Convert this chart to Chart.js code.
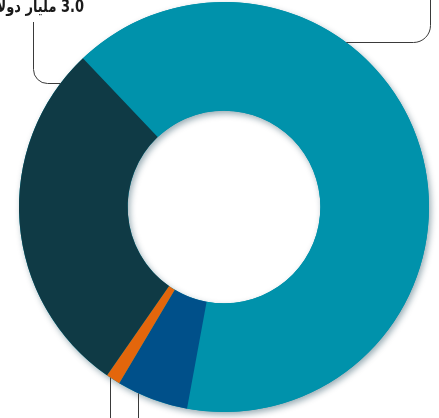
<!DOCTYPE html>
<html>
<head>
<meta charset="utf-8">
<script src="https://cdn.jsdelivr.net/npm/chart.js@4.4.0/dist/chart.umd.min.js"></script>
<style>
  html, body { margin: 0; padding: 0; background: #fff; }
  #wrap { width: 439px; height: 418px; }
</style>
</head>
<body>
<div id="wrap"><canvas id="chart"></canvas></div>
<script>
// values in billion dollars, clockwise from the top-left boundary
const labels = ['القطاع 1', 'القطاع 2', 'القطاع 3', 'القطاع 4'];
const values = [6.9, 0.6, 0.12, 3.0];
const colors = ['#0092ab', '#00508a', '#e3660c', '#0f3a45'];
const calloutText = '3.0 مليار دولار';

const ringShadow = {
    id: 'ringShadow',
    beforeDatasetsDraw(chart) {
        const arc = chart.getDatasetMeta(0).data[0];
        if (!arc) return;
        const ctx = chart.ctx;
        ctx.save();
        ctx.beginPath();
        ctx.arc(arc.x, arc.y, arc.outerRadius, 0, Math.PI * 2);
        ctx.arc(arc.x, arc.y, arc.innerRadius, 0, Math.PI * 2, true);
        ctx.shadowColor = 'rgba(0, 50, 70, 0.4)';
        ctx.shadowBlur = 6;
        ctx.shadowOffsetX = 2;
        ctx.shadowOffsetY = 3;
        ctx.fillStyle = colors[0];
        ctx.fill();
        ctx.restore();
    }
};

const callouts = {
    id: 'callouts',
    afterDraw(chart) {
        const meta = chart.getDatasetMeta(0);
        const a0 = meta.data[0];
        const cx = a0.x, cy = a0.y, r = a0.outerRadius;
        const ctx = chart.ctx;
        ctx.save();
        ctx.strokeStyle = '#3a3a3a';
        ctx.lineWidth = 1;

        // top-left callout to the dark slice
        let y = 83.5;
        let x = cx - Math.sqrt(r * r - (cy - y) * (cy - y));
        ctx.beginPath();
        ctx.moveTo(x, y);
        ctx.lineTo(33.5 + 14, y);
        ctx.arcTo(33.5, y, 33.5, y - 14, 14);
        ctx.lineTo(33.5, 22);
        ctx.stroke();

        // top-right callout from the teal slice
        y = 42.5;
        x = cx + Math.sqrt(r * r - (cy - y) * (cy - y));
        ctx.beginPath();
        ctx.moveTo(x, y);
        ctx.lineTo(430.5 - 17, y);
        ctx.arcTo(430.5, y, 430.5, y - 17, 17);
        ctx.lineTo(430.5, -5);
        ctx.stroke();

        // bottom callouts: orange slice and blue slice
        for (const lx of [110.5, 138.5]) {
            ctx.beginPath();
            ctx.moveTo(lx, cy + Math.sqrt(r * r - (lx - cx) * (lx - cx)));
            ctx.lineTo(lx, 430);
            ctx.stroke();
        }

        // label text (cut at the top-left edge)
        ctx.fillStyle = '#1a1a1a';
        ctx.font = "bold 17px 'DejaVu Sans Condensed', 'DejaVu Sans', sans-serif";
        ctx.direction = 'rtl';
        ctx.textAlign = 'right';
        ctx.textBaseline = 'alphabetic';
        ctx.translate(84, 12);
        ctx.scale(0.85, 1);
        ctx.fillText(calloutText, 0, 0);
        ctx.restore();
    }
};

new Chart(document.getElementById('chart'), {
    type: 'doughnut',
    data: {
        labels: labels,
        datasets: [{
            data: values,
            backgroundColor: colors,
            borderWidth: 0,
            hoverOffset: 0
        }]
    },
    options: {
        responsive: true,
        maintainAspectRatio: false,
        animation: false,
        rotation: 316.5,
        cutout: '47%',
        layout: { padding: { top: 2, bottom: 6, left: 9, right: 0 } },
        plugins: {
            legend: { display: false },
            tooltip: { enabled: false }
        }
    },
    plugins: [ringShadow, callouts]
});
</script>
</body>
</html>
